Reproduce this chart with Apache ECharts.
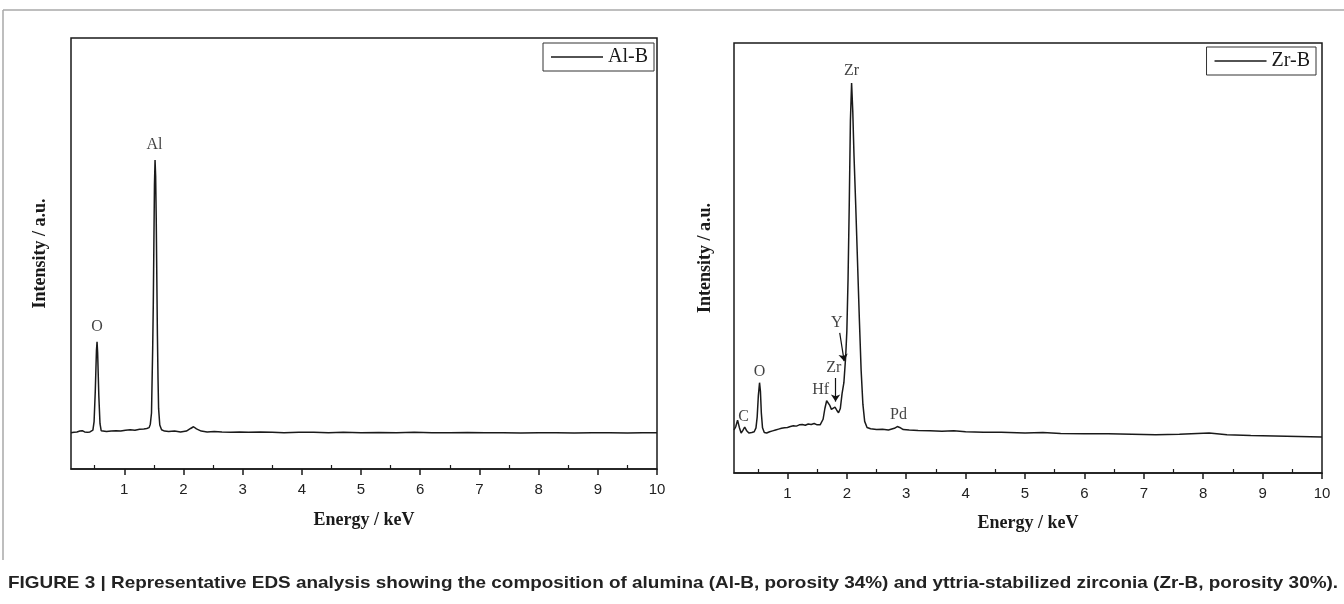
<!DOCTYPE html>
<html>
<head>
<meta charset="utf-8">
<script src="https://cdn.jsdelivr.net/npm/echarts@6/dist/echarts.min.js"></script>
<style>
html,body{margin:0;padding:0;background:#fff;}
#chart{width:1344px;height:604px;}
</style>
</head>
<body>
<div id="chart"></div>
<script>
// ---------- data ----------
const alEnergy = [0.10,0.15,0.20,0.25,0.29,0.33,0.38,0.42,0.45,0.47,0.49,0.51,0.53,0.54,0.55,0.57,0.59,0.61,0.64,0.70,0.78,0.86,0.94,1.02,1.10,1.18,1.26,1.33,1.38,1.42,1.44,1.46,1.48,1.49,1.50,1.51,1.52,1.53,1.54,1.55,1.56,1.57,1.58,1.60,1.63,1.68,1.75,1.85,1.95,2.05,2.12,2.17,2.22,2.30,2.40,2.52,2.65,2.80,2.95,3.10,3.30,3.50,3.70,3.95,4.20,4.45,4.70,5.00,5.30,5.60,5.90,6.20,6.50,6.80,7.10,7.40,7.70,8.00,8.30,8.60,8.90,9.20,9.50,9.75,10.00];
const alIntensity = [8.4,8.5,8.6,8.8,8.9,8.6,8.5,8.6,8.7,9.0,11.0,18.0,27.5,29.5,27.0,17.0,10.5,8.9,8.6,8.7,8.8,8.9,8.8,9.0,9.1,9.0,9.2,9.3,9.4,9.6,10.4,13.0,28.0,38.0,52.0,66.0,71.7,68.0,58.0,44.0,31.0,21.0,14.0,10.2,9.1,8.8,8.7,8.8,8.6,8.8,9.4,9.8,9.3,8.8,8.6,8.7,8.6,8.5,8.6,8.5,8.6,8.5,8.4,8.5,8.5,8.4,8.5,8.4,8.45,8.4,8.5,8.4,8.4,8.45,8.4,8.4,8.35,8.4,8.4,8.35,8.4,8.4,8.35,8.4,8.4];

const zrEnergy = [0.10,0.13,0.16,0.19,0.22,0.25,0.28,0.31,0.35,0.40,0.44,0.47,0.49,0.51,0.53,0.545,0.56,0.58,0.61,0.65,0.70,0.75,0.80,0.85,0.90,0.95,1.00,1.05,1.10,1.15,1.20,1.25,1.30,1.35,1.40,1.45,1.50,1.55,1.60,1.63,1.66,1.68,1.71,1.74,1.77,1.80,1.83,1.86,1.89,1.92,1.95,1.98,2.00,2.02,2.04,2.06,2.08,2.10,2.12,2.15,2.18,2.21,2.24,2.27,2.30,2.34,2.40,2.50,2.60,2.70,2.80,2.85,2.89,2.95,3.05,3.20,3.40,3.60,3.80,4.00,4.30,4.60,5.00,5.30,5.60,6.00,6.40,6.80,7.20,7.60,7.90,8.10,8.40,8.80,9.20,9.60,10.00];
const zrIntensity = [10.0,10.8,12.3,10.6,9.3,9.9,10.7,9.9,9.3,9.4,9.6,10.5,13.0,18.0,21.0,19.0,14.0,10.5,9.4,9.3,9.6,9.8,10.0,10.2,10.4,10.5,10.6,10.8,11.0,10.9,11.2,11.3,11.1,11.4,11.3,11.5,11.2,11.2,12.5,15.0,16.8,17.0,15.8,14.8,15.0,15.3,14.6,14.0,15.0,18.5,21.0,27.0,33.0,45.0,62.0,82.0,90.7,84.0,74.0,62.0,49.0,36.0,24.0,16.0,12.0,10.6,10.3,10.1,10.2,10.0,10.4,10.8,10.6,10.1,10.0,9.9,9.8,9.7,9.8,9.6,9.5,9.5,9.3,9.4,9.2,9.1,9.1,9.0,8.9,9.0,9.2,9.3,8.9,8.7,8.6,8.5,8.4];

const xTickValues = [1,2,3,4,5,6,7,8,9,10];
const xMinorValues = [0.5,1.5,2.5,3.5,4.5,5.5,6.5,7.5,8.5,9.5];

// peak annotations [energy, intensity, text]
const alPeakLabels = [[0.54,32.9,'O'],[1.51,75.2,'Al']];
const zrPeakLabels = [[0.26,13.0,'C'],[0.53,23.5,'O'],[1.56,19.3,'Hf'],[1.78,24.4,'Zr'],[1.83,34.9,'Y'],[2.08,93.5,'Zr'],[2.87,13.5,'Pd']];
// arrows [[x1,y1],[x2,y2]]
const zrArrows = [[[1.88,32.6],[1.955,26.0]],[[1.81,22.1],[1.81,16.6]]];

const caption = 'FIGURE 3 | Representative EDS analysis showing the composition of alumina (Al-B, porosity 34%) and yttria-stabilized zirconia (Zr-B, porosity 30%).';

// ---------- build ----------
const pair = (xs, ys) => xs.map((x,i)=>[x, ys[i]]);
const serif = '"Liberation Serif", "Times New Roman", serif';
const sans = '"Liberation Sans", Arial, sans-serif';
const ink = '#1a1a1a';

function xAxesFor(gi, nameGap){
  return [
    {
      gridIndex: gi, type:'value', min:0.1, max:10,
      name:'Energy / keV', nameLocation:'middle', nameGap:nameGap,
      nameTextStyle:{fontFamily:serif,fontWeight:'bold',fontSize:18,color:ink},
      axisLine:{show:true,onZero:false,lineStyle:{color:ink,width:1.5}},
      axisTick:{show:true,customValues:xTickValues,length:6,lineStyle:{color:ink,width:1.5}},
      axisLabel:{show:true,customValues:xTickValues,margin:13,fontFamily:sans,fontSize:15,color:'#222'},
      splitLine:{show:false}
    },
    {
      gridIndex: gi, type:'value', min:0.1, max:10,
      axisLine:{show:false},
      axisTick:{show:true,customValues:xMinorValues,length:4,lineStyle:{color:ink,width:1.2}},
      axisLabel:{show:false},
      splitLine:{show:false}
    }
  ];
}
function yAxisFor(gi, nameGap){
  return {
    gridIndex: gi, type:'value', min:0, max:100,
    name:'Intensity / a.u.', nameLocation:'middle', nameGap:nameGap,
    nameTextStyle:{fontFamily:serif,fontWeight:'bold',fontSize:18,color:ink},
    axisLine:{show:false}, axisTick:{show:false}, axisLabel:{show:false}, splitLine:{show:false}
  };
}
function labelSeries(xi, yi, labels, arrows){
  const s = {
    type:'scatter', xAxisIndex:xi, yAxisIndex:yi, symbolSize:0, silent:true,
    data: labels.map(l=>({value:[l[0],l[1]], name:l[2]})),
    label:{show:true, position:'inside', formatter:'{b}', fontFamily:serif, fontSize:16, color:'#111'},
    z:5
  };
  if (arrows){
    s.markLine = {
      silent:true, symbol:['none','arrow'], symbolSize:7, animation:false,
      lineStyle:{color:'#111',width:1.2,type:'solid'}, label:{show:false},
      data: arrows.map(a=>[{coord:a[0]},{coord:a[1]}])
    };
  }
  return s;
}

const chart = echarts.init(document.getElementById('chart'), null, {renderer:'canvas'});

// caption width fit
const capFont = 'bold 17px "Liberation Sans"';
const cv = document.createElement('canvas').getContext('2d');
cv.font = capFont;
const capW = cv.measureText(caption).width;
const capScale = 1330 / capW;

chart.setOption({
  animation:false,
  backgroundColor:'#ffffff',
  grid:[
    {left:71, top:38, width:586, height:431, show:true, borderColor:ink, borderWidth:1.5, backgroundColor:'#fff'},
    {left:734, top:43, width:588, height:430, show:true, borderColor:ink, borderWidth:1.5, backgroundColor:'#fff'}
  ],
  xAxis:[...xAxesFor(0,42), ...xAxesFor(1,41)],
  yAxis:[yAxisFor(0,22), yAxisFor(1,20)],
  legend:[
    {data:['Al-B'], right:690, top:43, orient:'horizontal', icon:'rect', itemWidth:52, itemHeight:1.5,
     itemGap:5, padding:[4,6,4,8], borderColor:'#333', borderWidth:1, backgroundColor:'#fff',
     textStyle:{fontFamily:serif,fontSize:20,color:ink}},
    {data:['Zr-B'], right:28, top:47, orient:'horizontal', icon:'rect', itemWidth:52, itemHeight:1.5,
     itemGap:5, padding:[4,6,4,8], borderColor:'#333', borderWidth:1, backgroundColor:'#fff',
     textStyle:{fontFamily:serif,fontSize:20,color:ink}}
  ],
  series:[
    {name:'Al-B', type:'line', xAxisIndex:0, yAxisIndex:0, data:pair(alEnergy,alIntensity),
     showSymbol:false, symbol:'none', lineStyle:{color:ink,width:1.5}, itemStyle:{color:ink}},
    {name:'Zr-B', type:'line', xAxisIndex:2, yAxisIndex:1, data:pair(zrEnergy,zrIntensity),
     showSymbol:false, symbol:'none', lineStyle:{color:ink,width:1.5}, itemStyle:{color:ink}},
    labelSeries(0,0,alPeakLabels,null),
    labelSeries(2,1,zrPeakLabels,zrArrows)
  ],
  graphic:[
    {type:'line', shape:{x1:3,y1:10,x2:1344,y2:10}, style:{stroke:'#a8a8a8',lineWidth:1.5}, silent:true},
    {type:'line', shape:{x1:3,y1:10,x2:3,y2:560}, style:{stroke:'#a8a8a8',lineWidth:1.5}, silent:true},
    {type:'text', x:8, y:575, scaleX:capScale, silent:true,
     style:{text:caption, font:capFont, fill:'#222', textVerticalAlign:'top'}}
  ]
});
</script>
</body>
</html>
